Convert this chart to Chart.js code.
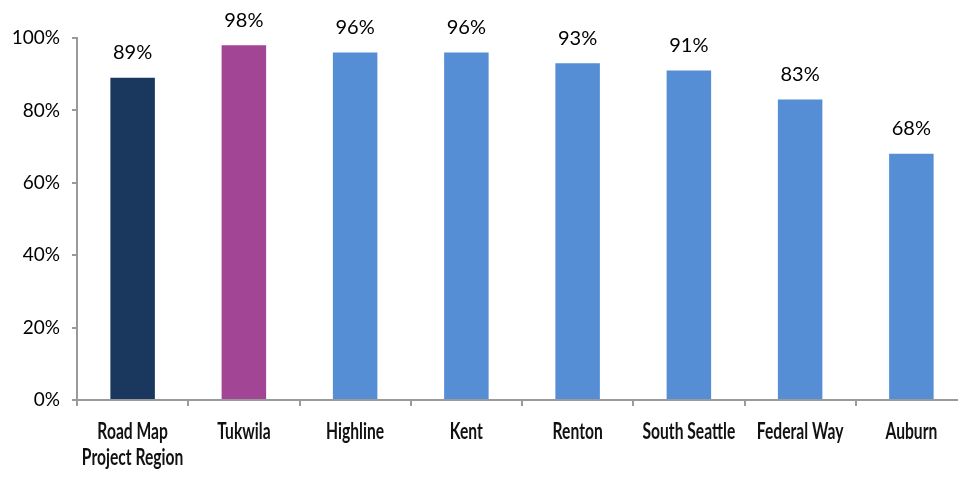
<!DOCTYPE html>
<html>
<head>
<meta charset="utf-8">
<script src="https://cdn.jsdelivr.net/npm/chart.js@4"></script>
<style>
  html, body { margin: 0; padding: 0; background: #fff; overflow: hidden; }
  #wrap { position: relative; width: 967px; height: 477px; }
</style>
</head>
<body>
<div id="wrap"><canvas id="chart"></canvas></div>
<script>
// data
const categories = [['Road Map', 'Project Region'], 'Tukwila', 'Highline', 'Kent', 'Renton', 'South Seattle', 'Federal Way', 'Auburn'];
const values = [89, 98, 96, 96, 93, 91, 83, 68];
const barColors = ['#1a385e', '#a34595', '#558ed5', '#558ed5', '#558ed5', '#558ed5', '#558ed5', '#558ed5'];
const yTicks = [0, 20, 40, 60, 80, 100];

const axisColor = '#9a9a9a';
const labelFont = "'Lato', 'Noto Sans', sans-serif";

// draws the percentage above each bar
const valueLabels = {
    id: 'valueLabels',
    afterDatasetsDraw(chart) {
        const ctx = chart.ctx;
        const meta = chart.getDatasetMeta(0);
        ctx.save();
        ctx.font = '20px ' + labelFont;
        ctx.fillStyle = '#000';
        ctx.textAlign = 'center';
        ctx.textBaseline = 'middle';
        meta.data.forEach((bar, i) => {
            ctx.fillText(values[i] + '%', bar.x, bar.y - 25);
        });
        ctx.restore();
    }
};

// category names in a condensed look (squeezed horizontally)
const narrowLabels = {
    id: 'narrowLabels',
    afterDraw(chart) {
        const ctx = chart.ctx;
        const xs = chart.scales.x;
        ctx.save();
        ctx.font = 'bold 23px ' + labelFont;
        ctx.fillStyle = '#111';
        ctx.textAlign = 'center';
        ctx.textBaseline = 'middle';
        categories.forEach((cat, i) => {
            const lines = Array.isArray(cat) ? cat : [cat];
            const x = xs.getPixelForValue(i);
            lines.forEach((line, j) => {
                ctx.save();
                ctx.translate(x, 432 + j * 26);
                ctx.scale(0.68, 1);
                ctx.fillText(line, 0, 0);
                ctx.restore();
            });
        });
        ctx.restore();
    }
};

const ctx = document.getElementById('chart').getContext('2d');
new Chart(ctx, {
    type: 'bar',
    data: {
        labels: categories,
        datasets: [{
            data: values,
            backgroundColor: barColors,
            borderWidth: 0,
            barPercentage: 0.4,
            categoryPercentage: 1
        }]
    },
    options: {
        responsive: true,
        maintainAspectRatio: false,
        animation: false,
        layout: { padding: { top: 38, left: 0, right: 0, bottom: 0 } },
        plugins: {
            legend: { display: false },
            tooltip: { enabled: false }
        },
        scales: {
            x: {
                offset: true,
                grid: { display: true, drawOnChartArea: false, offset: true, color: axisColor, tickLength: 6, lineWidth: 2 },
                border: { display: true, color: axisColor, width: 2 },
                ticks: { display: false },
                afterFit(scale) { scale.height = 77; }
            },
            y: {
                min: 0,
                max: 100,
                afterBuildTicks(scale) { scale.ticks = yTicks.map(v => ({ value: v })); },
                grid: { display: true, drawOnChartArea: false, color: axisColor, tickLength: 5, lineWidth: 2 },
                border: { display: true, color: axisColor, width: 2 },
                ticks: { color: '#000', font: { family: labelFont, size: 19 }, padding: 12, callback: v => v + '%' },
                afterFit(scale) { scale.width = 77; }
            }
        }
    },
    plugins: [valueLabels, narrowLabels]
});
</script>
</body>
</html>
